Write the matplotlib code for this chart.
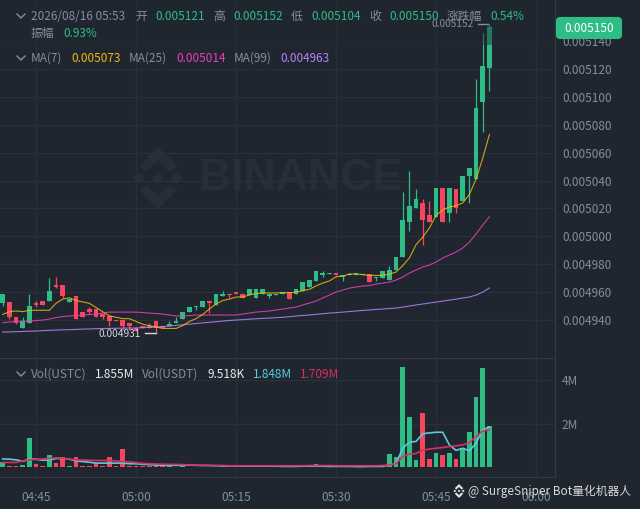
import matplotlib
matplotlib.use('Agg')
import matplotlib.pyplot as plt
from matplotlib.patches import Polygon, FancyBboxPatch, Rectangle
import numpy as np

plt.rcParams['font.family'] = ['Noto Sans CJK SC', 'DejaVu Sans']

# prices are in millionths (5150 = 0.005150), one candle per minute from 04:40
opens = [4952,4953,4942,4934,4938,4952,4954,4954,4965,4965,4953,4957,4946,4948,4948,4944,4943,4940,4940,4938,
         4934,4936,4936,4939,4936,4936,4938,4941,4946,4949,4949,4954,4951,4957,4959,4960,4959,4958,4956,4959,
         4957,4958,4959,4960,4959,4961,4964,4968,4972,4973,4974,4971,4972,4972,4972,4973,4970,4970,4969,4976,
         4985,5010,5020,5024,5015,5014,5035,5017,5034,5025,5043,5041,5096,5121]
closes = [4959,4942,4938,4939,4950,4951,4951,4961,4964,4957,4955,4941,4942,4946,4942,4942,4939,4939,4936,4936,
          4932,4934,4934,4934,4934,4937,4939,4946,4949,4950,4954,4952,4959,4959,4958,4959,4956,4962,4962,4962,
          4959,4959,4960,4955,4962,4967,4969,4975,4974,4974,4972,4972,4973,4974,4973,4967,4971,4975,4976,4985,
          5012,5022,5027,5012,5010,5035,5010,5035,5020,5043,5049,5092,5122,5150]
highs = [4959,4953,4942,4942,4959,4954,4954,4970,4971,4965,4955,4957,4946,4949,4948,4944,4943,4940,4940,4938,
         4935,4936,4938,4939,4936,4939,4942,4946,4949,4950,4954,4954,4959,4961,4959,4960,4959,4962,4962,4962,
         4959,4959,4960,4960,4962,4967,4969,4975,4975,4974,4974,4972,4974,4974,4973,4973,4971,4975,4979,4985,
         5032,5047,5034,5027,5025,5035,5035,5035,5034,5043,5049,5113,5146,5152]
lows = [4950,4941,4937,4934,4938,4949,4951,4954,4963,4956,4953,4941,4942,4944,4942,4941,4936,4939,4933,4933,
        4932,4934,4934,4931,4934,4936,4938,4941,4946,4947,4949,4945,4951,4957,4956,4959,4956,4958,4956,4959,
        4956,4958,4959,4955,4959,4961,4964,4968,4971,4973,4972,4968,4972,4972,4972,4967,4968,4970,4969,4976,
        4985,5004,5020,4994,5010,5014,5010,5010,5017,5025,5024,5041,5075,5104]

ma7 = [4944,4946,4946.5,4946,4947,4947,4947,4947,4952,4955,4956,4954,4953,4952,4949,4946,4943,4942,4941,4941,
       4939,4937,4936,4935,4934,4934,4934,4936,4939,4941,4944,4948,4951.5,4954,4955,4956.5,4956.5,4958,4959,4959.4,
       4959.4,4959.4,4959.6,4959.6,4960,4961,4962,4964.5,4966.5,4968,4971,4971.5,4973,4973,4972.6,4972,4972,4972,4973,4974.4,
       4979,4984.5,4994,4999.5,5006,5015,5019,5021,5022,5024,5030,5041,5056,5073]
ma25 = [4938,4938.6,4939,4939.3,4939.3,4939.6,4940,4940.7,4941.8,4942.5,4942.9,4943.2,4943.6,4943.9,4944.3,4945,4945.7,4945.7,4945.7,4945.7,
        4945.7,4945.4,4945,4944.7,4944.3,4943.6,4942.9,4942.9,4943.2,4943.6,4943.6,4943.6,4943.6,4943.6,4943.6,4943.6,4944.3,4945,4945.7,4946.1,
        4946.5,4947.2,4947.9,4948.6,4949.3,4950.8,4952.2,4953.6,4955.8,4957.9,4960.1,4961.5,4962.9,4963.7,4964.4,4964.7,4965.8,4966.5,4967.2,4968.7,
        4970.8,4973.7,4975.9,4978,4979.4,4981.6,4984.5,4986.6,4988.8,4991.6,4995.9,5001.7,5008.1,5014]
ma99 = [4931.4,4931.5,4931.7,4931.8,4932,4932.1,4932.4,4932.6,4932.8,4933,4933.1,4933.3,4933.5,4933.6,4933.8,4933.9,4934,4934.1,4934.2,4934.3,
        4934.3,4934.5,4934.8,4935,4935.4,4935.7,4936.2,4936.6,4937.1,4937.5,4938,4938.4,4938.8,4939.3,4939.7,4940,4940.3,4940.6,4940.9,4941.2,
        4941.4,4941.7,4942,4942.4,4942.9,4943.3,4943.6,4944.1,4944.5,4945,4945.3,4945.7,4946.1,4946.5,4946.9,4947.2,4947.6,4947.9,4948.3,4948.6,
        4949.3,4950,4950.8,4951.5,4952.2,4952.9,4953.6,4954.3,4955,4955.8,4956.5,4957.9,4960,4963]

volume = [.23,.08,.08,.1,1.34,.17,.06,.58,.2,.47,.06,.5,.08,.08,.2,.09,.47,.08,.84,.08,
          .08,.05,.08,.1,.09,.05,.04,.05,.03,.03,.03,.04,.04,.05,.04,.03,.05,.04,.04,.03,
          .05,.04,.04,.07,.06,.08,.09,.16,.08,.04,.05,.04,.04,.05,.03,.06,.04,.03,.6,.47,
          4.58,2.3,.32,2.48,.37,.65,.55,.67,.4,.88,1.63,3.2,4.54,1.9]
vol_ma_cyan = [.39,.38,.35,.28,.38,.38,.33,.35,.41,.41,.38,.3,.27,.24,.2,.2,.2,.2,.2,.17,
               .17,.15,.13,.11,.1,.1,.1,.1,.11,.1,.09,.09,.08,.08,.07,.07,.06,.06,.06,.06,
               .06,.06,.05,.05,.05,.06,.06,.07,.06,.05,.05,.05,.05,.04,.04,.05,.05,.05,.12,.17,
               .88,1.16,1.19,1.54,1.58,1.61,1.61,1.03,.78,.88,.76,1.11,1.72,1.85]
vol_ma_red = [.23,.23,.23,.3,.35,.37,.39,.41,.44,.42,.38,.35,.34,.33,.32,.32,.32,.3,.27,.25,
              .22,.19,.17,.16,.15,.14,.14,.13,.12,.11,.1,.1,.09,.09,.08,.08,.08,.08,.08,.08,
              .08,.08,.08,.08,.08,.08,.09,.09,.09,.09,.08,.08,.08,.08,.08,.08,.08,.09,.12,.17,
              .5,.61,.64,.79,.84,.88,.91,.96,.99,1.03,1.14,1.42,1.66,1.73]

price_ticks = [4940,4960,4980,5000,5020,5040,5060,5080,5100,5120,5140]
vol_ticks = [2,4]
time_ticks = [5,20,35,50,65,80]
time_labels = ['04:45','05:00','05:15','05:30','05:45','06:00']

BG = '#1f2630'
GRID = '#29303a'
LINE = '#343a45'
GREY = '#848e9c'
GREEN = '#2ebd85'
RED = '#f6465d'
YELLOW = '#f0b90b'
PINK = '#eb40b5'
PURPLE = '#b385f8'
CYAN = '#5fc9d9'
CRIMSON = '#d8305f'
FS = 8.5

W, H = 640, 509
fig = plt.figure(figsize=(W/100, H/100), dpi=100, facecolor=BG)


def pixel_axes(z):
    a = fig.add_axes([0, 0, 1, 1], zorder=z)
    a.set_xlim(0, W)
    a.set_ylim(H, 0)
    a.axis('off')
    return a


def logo(a, cx, cy, s, color, **kw):
    shapes = [[(0, -.2), (.2, 0), (0, .2), (-.2, 0)],
              [(-.6, -.2), (-.4, 0), (-.6, .2), (-.8, 0)],
              [(.6, -.2), (.8, 0), (.6, .2), (.4, 0)],
              [(0, -1), (.6, -.4), (.38, -.2), (0, -.58), (-.38, -.2), (-.6, -.4)],
              [(0, 1), (.6, .4), (.38, .2), (0, .58), (-.38, .2), (-.6, .4)]]
    for sh in shapes:
        a.add_patch(Polygon([(cx+s*p, cy+s*q) for p, q in sh], closed=True, fc=color, ec='none', **kw))


# faint watermark goes under the candles
under = pixel_axes(0)
logo(under, 158, 178, 31, '#272e38')
under.text(199, 178, 'BINANCE', color='#272e38', fontsize=32, fontweight='bold',
           family='Liberation Sans', va='center', ha='left')

x = np.arange(len(opens))
x0 = -2.7/6.667
x1 = (555-2.7)/6.667

ax = fig.add_axes([0, 1-358/H, 555/W, 358/H], zorder=1)
ax.patch.set_alpha(0)
ax.set_xlim(x0, x1)
ax.set_ylim(4912.8, 5169.4)
ax.set_xticks(time_ticks)
ax.set_yticks(price_ticks)
ax.set_yticklabels(['%.6f' % (p/1e6) for p in price_ticks])
ax.yaxis.tick_right()
ax.tick_params(axis='y', length=0, pad=5, labelcolor=GREY, labelsize=FS)
ax.tick_params(axis='x', length=0, labelbottom=False)
ax.grid(True, color=GRID, lw=1)
ax.set_axisbelow(True)
for s in ['top', 'left']:
    ax.spines[s].set_visible(False)
for s in ['bottom', 'right']:
    ax.spines[s].set_color(LINE)

colors = [GREEN if c >= o else RED for o, c in zip(opens, closes)]
ax.vlines(x, lows, highs, colors=colors, lw=.9, zorder=2)
ax.bar(x, np.abs(np.array(closes)-np.array(opens)), bottom=np.minimum(opens, closes),
       width=.72, color=colors, zorder=2)
ax.plot(x, ma99, color=PURPLE, lw=.8, alpha=.85, zorder=3)
ax.plot(x, ma25, color=PINK, lw=.8, alpha=.85, zorder=3)
ax.plot(x, ma7, color=YELLOW, lw=.8, alpha=.85, zorder=3)

vax = fig.add_axes([0, 1-477/H, 555/W, 119/H], zorder=1)
vax.patch.set_alpha(0)
vax.set_xlim(x0, x1)
vax.set_ylim(-.434, 5.0)
vax.set_xticks(time_ticks)
vax.set_xticklabels(time_labels)
vax.set_yticks(vol_ticks)
vax.set_yticklabels(['%dM' % v for v in vol_ticks])
vax.yaxis.tick_right()
vax.tick_params(axis='y', length=0, pad=5, labelcolor=GREY, labelsize=FS)
vax.tick_params(axis='x', length=0, pad=10, labelcolor=GREY, labelsize=FS)
vax.grid(True, color=GRID, lw=1)
vax.set_axisbelow(True)
for s in ['top', 'left']:
    vax.spines[s].set_visible(False)
for s in ['bottom', 'right']:
    vax.spines[s].set_color(LINE)
vax.bar(x, volume, width=.72, color=colors, zorder=2)
vax.plot(x, vol_ma_cyan, color=CYAN, lw=1.2, zorder=3)
vax.plot(x, vol_ma_red, color=CRIMSON, lw=1.2, zorder=4)

# everything on top of the panels, placed in pixels
top = pixel_axes(3)
top.text(474, 24, '0.005152', color=GREY, fontsize=7.3, ha='right', va='center')
top.plot([478, 488], [24, 24], color=GREY, lw=1)
top.add_patch(Rectangle((0, 0), 555, 45, fc=BG, ec='none', alpha=.45))
top.text(141, 334, '0.004931', color='#d5d9df', fontsize=7.3, ha='right', va='center')
top.plot([145, 156], [333, 333], color='#d5d9df', lw=1)


def row(y, items):
    for px, s, c in items:
        top.text(px, y, s, color=c, fontsize=FS, ha='left', va='center')


def chevron(y):
    top.plot([17, 21, 25], [y-2, y+2, y-2], color=GREY, lw=1)


row(16, [(31, '2026/08/16 05:53', GREY), (135, '开', GREY), (155, '0.005121', GREEN), (213, '高', GREY),
         (233, '0.005152', GREEN), (291, '低', GREY), (311, '0.005104', GREEN), (369, '收', GREY),
         (389, '0.005150', GREEN), (447, '涨跌幅', GREY), (490, '0.54%', GREEN)])
row(33, [(31, '振幅', GREY), (63, '0.93%', GREEN)])
row(58, [(31, 'MA(7)', GREY), (71, '0.005073', YELLOW), (129, 'MA(25)', GREY), (176, '0.005014', PINK),
         (234, 'MA(99)', GREY), (280, '0.004963', PURPLE)])
row(374, [(31, 'Vol(USTC)', GREY), (95, '1.855M', '#eaecef'), (142, 'Vol(USDT)', GREY), (207, '9.518K', '#eaecef'),
          (253, '1.848M', CYAN), (300, '1.709M', CRIMSON)])
chevron(16)
chevron(58)
chevron(374)

top.add_patch(FancyBboxPatch((557, 18), 64, 20, boxstyle='round,pad=0,rounding_size=3', fc=GREEN, ec=GREEN, lw=1.5))
top.text(589, 28.5, '0.005150', color='white', fontsize=FS, ha='center', va='center')

logo(top, 459, 491, 7, '#e4e4e4')
top.text(468, 491, '@ SurgeSniper Bot量化机器人', color='#d8d8d8', fontsize=FS, ha='left', va='center')

fig.savefig('out.png', dpi=100, facecolor=BG)
